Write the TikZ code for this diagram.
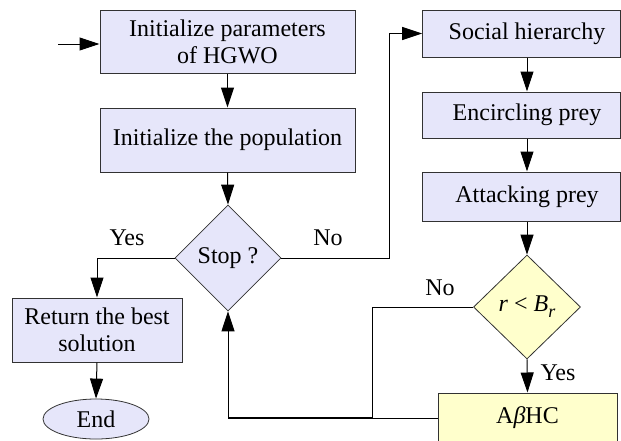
\documentclass[tikz,border=0pt]{standalone}
\usepackage{fontspec}
\setmainfont{Liberation Serif}
\usetikzlibrary{shapes.geometric,arrows.meta}
\definecolor{lav}{RGB}{230,230,250}
\definecolor{lyel}{RGB}{255,255,204}
\definecolor{bord}{RGB}{50,50,50}
\begin{document}
\begin{tikzpicture}[x=1pt,y=-1pt,
  every node/.style={font=\fontsize{24}{27}\selectfont},
  box/.style={draw=bord,line width=1pt,fill=lav,inner sep=0pt,align=center},
  ybox/.style={box,fill=lyel},
  dia/.style={draw=bord,line width=0.8pt,fill=lav,diamond,inner sep=0pt},
  ydia/.style={dia,fill=lyel},
  arr/.style={line width=1pt,-{Triangle[length=20pt,width=13pt]}},
  ln/.style={line width=1pt},
  lbl/.style={inner sep=0pt}]
\clip (0,0) rectangle (621,440);
\useasboundingbox (0,0) rectangle (621,440);
\fill[white] (0,0) rectangle (621,440);

\node[box,minimum width=255pt,minimum height=63pt] (b1) at (227.5,41.5) {Initialize parameters\\of HGWO};
\node[box,minimum width=255pt,minimum height=64pt] (b2) at (227.5,140) {Initialize the population};
\node[dia,minimum width=106pt,minimum height=106pt] (stop) at (228,258) {Stop ?};
\node[box,minimum width=170pt,minimum height=64pt] (ret) at (97,330) {Return the best\\solution};
\node[draw=bord,line width=0.8pt,fill=lav,ellipse,inner sep=0pt,minimum width=106pt,minimum height=40pt] (end) at (96,419) {End};

\node[box,minimum width=198pt,minimum height=47pt] (sh) at (521.7,33.5) {\hspace*{10.6pt}Social hierarchy};
\node[box,minimum width=198pt,minimum height=46pt] (enc) at (521.7,115) {\hspace*{10.6pt}Encircling prey};
\node[box,minimum width=198pt,minimum height=49pt] (att) at (521.7,196.5) {\hspace*{10.6pt}Attacking prey};
\node[ydia,minimum width=107pt,minimum height=104pt] (rb) at (527,307) {\textit{r} < \textit{B}\raisebox{-6pt}{\fontsize{18}{18}\selectfont\textit{r}}};
\node[ybox,minimum width=179pt,minimum height=50pt] (ab) at (527.5,418) {A\textit{β}HC};

\coordinate (start) at (58,44);
\coordinate (nright) at (389,258);
\coordinate (merge) at (372,418);
\coordinate (lowleft) at (228,418);

\draw[arr] (start) -- (b1.west |- start);
\draw[arr] (b1.south) -- (b2.north);
\draw[arr] (b2.south) -- (stop.north);
\draw[arr] (stop.west) -| (ret.north);
\draw[arr] (ret.south) -- (end.north);
\draw[arr] (stop.east) -- (nright) |- (sh.west);
\draw[arr] (sh.south -| rb.north) -- (enc.north -| rb.north);
\draw[arr] (enc.south -| rb.north) -- (att.north -| rb.north);
\draw[arr] (att.south -| rb.north) -- (rb.north);
\draw[arr] (rb.south) -- (ab.north);
\draw[ln] (rb.west) -| (merge);
\draw[ln] (ab.west) -- (merge);
\draw[line width=2pt] (merge) -- (lowleft);
\draw[arr] (lowleft) -- (stop.south);

\node[lbl] (yes1) at (127,238) {Yes};
\node[lbl] (no1) at (328,238) {No};
\node[lbl] (no2) at (440,288) {No};
\node[lbl] (yes2) at (558,373) {Yes};
\end{tikzpicture}
\end{document}
